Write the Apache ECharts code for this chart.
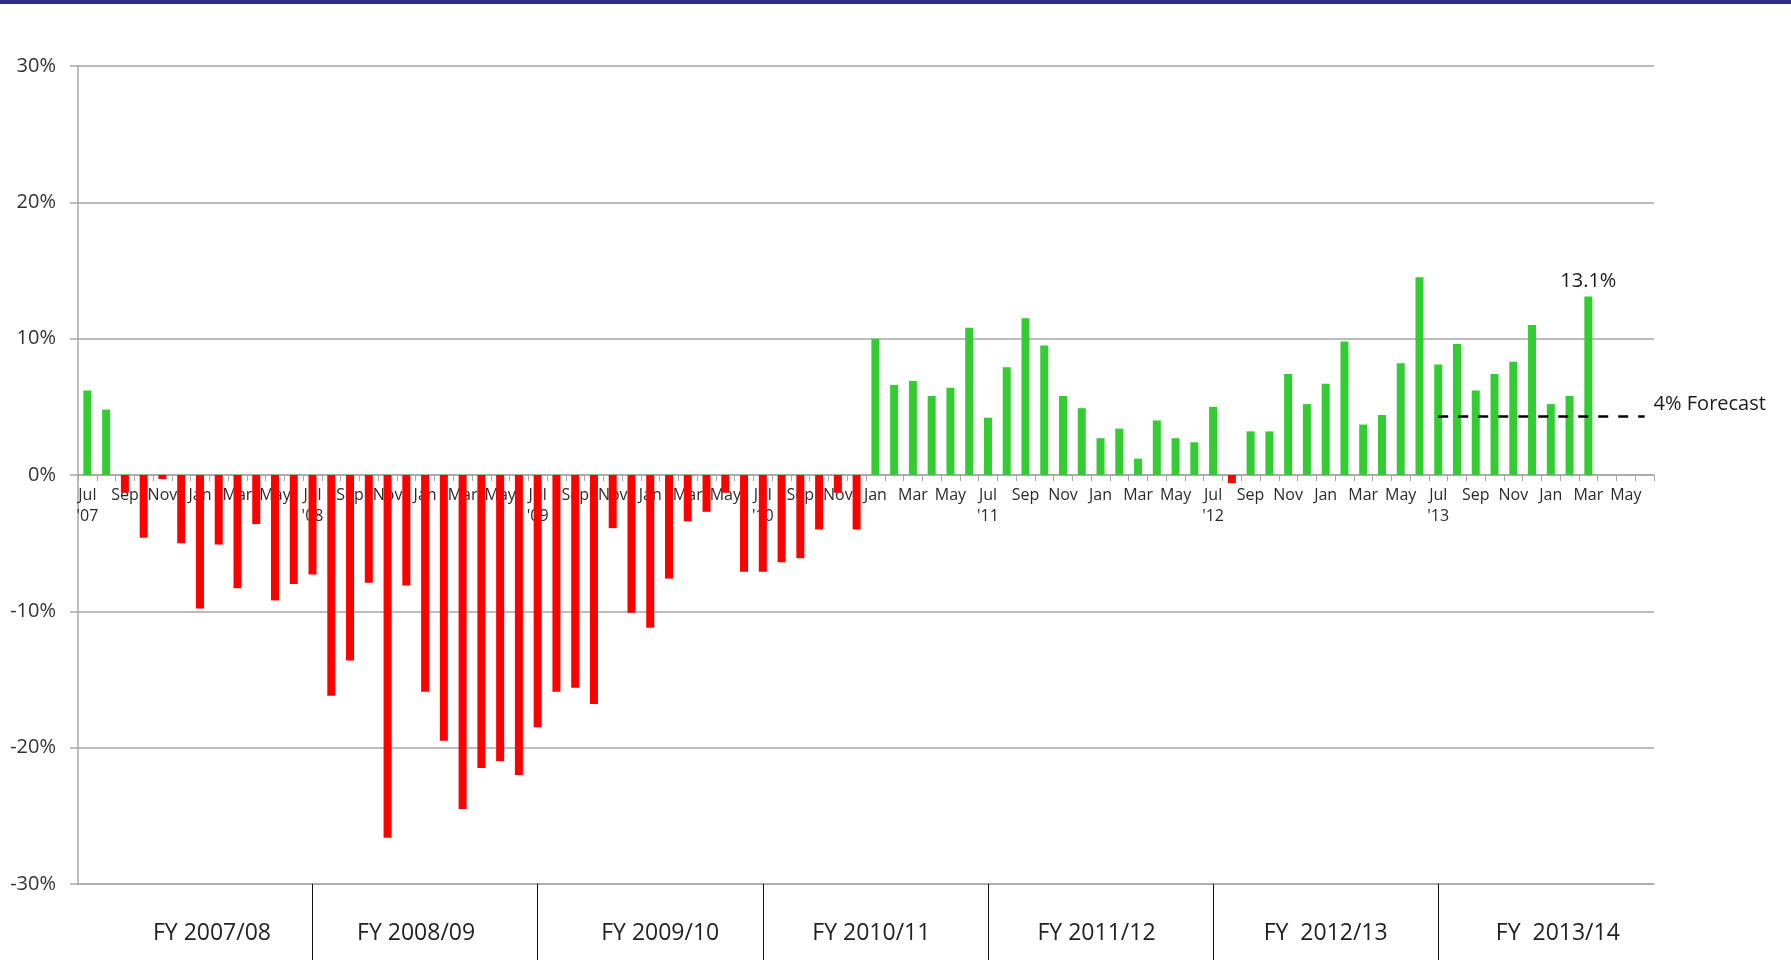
<!DOCTYPE html>
<html>
<head>
<meta charset="utf-8">
<style>
  html, body { margin: 0; padding: 0; background: #ffffff; }
  #chart { width: 1791px; height: 972px; }
</style>
<script src="https://cdn.jsdelivr.net/npm/echarts@6/dist/echarts.min.js"></script>
</head>
<body>
<div id="chart"></div>
<script>
// ---- Data ----
const monthNames = ['Jul','Aug','Sep','Oct','Nov','Dec','Jan','Feb','Mar','Apr','May','Jun'];
const fyLabels = ['FY 2007/08','FY 2008/09','FY 2009/10','FY 2010/11','FY 2011/12','FY  2012/13','FY  2013/14'];
const fyStartYears = ['07','08','09','10','11','12','13'];

// categories: Jul '07 ... Jun '14 (84 months)
const categories = [];
fyStartYears.forEach(function (y) {
  monthNames.forEach(function (m, j) {
    const yy = j < 6 ? y : String(parseInt(y, 10) + 1).padStart(2, '0');
    categories.push(m + " '" + yy);
  });
});

// Monthly % change; Apr-Jun '14 not yet reported
const growth = [
  6.2, 4.8, -1.3, -4.6, -0.3, -5.0, -9.8, -5.1, -8.3, -3.6, -9.2, -8.0,      // FY 2007/08
  -7.3, -16.2, -13.6, -7.9, -26.6, -8.1, -15.9, -19.5, -24.5, -21.5, -21.0, -22.0, // FY 2008/09
  -18.5, -15.9, -15.6, -16.8, -3.9, -10.1, -11.2, -7.6, -3.4, -2.7, -1.3, -7.1,   // FY 2009/10
  -7.1, -6.4, -6.1, -4.0, -1.3, -4.0, 10.0, 6.6, 6.9, 5.8, 6.4, 10.8,        // FY 2010/11
  4.2, 7.9, 11.5, 9.5, 5.8, 4.9, 2.7, 3.4, 1.2, 4.0, 2.7, 2.4,               // FY 2011/12
  5.0, -0.6, 3.2, 3.2, 7.4, 5.2, 6.7, 9.8, 3.7, 4.4, 8.2, 14.5,              // FY 2012/13
  8.1, 9.6, 6.2, 7.4, 8.3, 11.0, 5.2, 5.8, 13.1, null, null, null            // FY 2013/14
];

const forecastMonths = ["Jul '13","Aug '13","Sep '13","Oct '13","Nov '13","Dec '13","Jan '14","Feb '14","Mar '14","Apr '14","May '14","Jun '14"];
const forecastValues = [4.3, 4.3, 4.3, 4.3, 4.3, 4.3, 4.3, 4.3, 4.3, 4.3, 4.3, 4.3];
const forecastLabel = '4% Forecast';

const yTicks = { min: -30, max: 30, interval: 10 };

// ---- Build ----
let lastIdx = -1;
growth.forEach(function (v, i) { if (v !== null) lastIdx = i; });

const font = 'Open Sans';
const gridColor = '#a6a6a6';

const barData = growth.map(function (v, i) {
  if (i === lastIdx) {
    return { value: v, label: { show: true, position: 'top', distance: 5,
      formatter: function (p) { return p.value.toFixed(1) + '%'; },
      fontSize: 20, color: '#1a1a1a', fontFamily: font } };
  }
  return v;
});

// layout of the plot area
const L = 78, R = 137, T = 66, B = 88, H = 972 - T - B;
const zeroFromTop = H * yTicks.max / (yTicks.max - yTicks.min);

// small horizontal nudges of the fiscal-year captions (style only)
const fyNudge = [12, -9, 10, -4, -4, 0, 7];
const fyRich = {};
fyNudge.forEach(function (s, k) {
  fyRich['f' + k] = {
    fontSize: 23, color: '#222222', fontFamily: font,
    padding: [0, Math.max(0, -2 * s), 0, Math.max(0, 2 * s)]
  };
});

const chart = echarts.init(document.getElementById('chart'), null, { renderer: 'canvas' });
chart.setOption({
  animation: false,
  backgroundColor: '#ffffff',
  graphic: [{
    type: 'rect', left: 0, top: 0, z: 100,
    shape: { width: 1791, height: 4 },
    style: { fill: '#2e2a8c' }
  }],
  grid: [
    { left: L, right: R, top: T, bottom: B },
    { left: L, right: R, top: T, height: zeroFromTop }
  ],
  xAxis: [{
    // fiscal-year axis along the bottom of the plot
    type: 'category',
    gridIndex: 0,
    data: categories,
    position: 'bottom',
    boundaryGap: true,
    axisLine: { show: true, onZero: false, lineStyle: { color: gridColor, width: 1.5 } },
    axisTick: {
      show: true, alignWithLabel: true, length: 76,
      interval: function (i) { return i > 0 && i % 12 === 0; },
      lineStyle: { color: '#111111', width: 1 }
    },
    axisLabel: {
      interval: function (i) { return i % 12 === 6; },
      margin: 38,
      fontSize: 23,
      color: '#222222',
      fontFamily: font,
      rich: fyRich,
      formatter: function (v, i) {
        const k = Math.floor(i / 12);
        return '{f' + k + '|' + fyLabels[k] + '}';
      }
    },
    splitLine: { show: false }
  }, {
    // month axis drawn along the 0% line
    type: 'category',
    gridIndex: 1,
    data: categories,
    position: 'bottom',
    boundaryGap: true,
    axisLine: { show: true, onZero: false, lineStyle: { color: gridColor, width: 1.5 } },
    axisTick: { show: true, interval: 0, length: 6, lineStyle: { color: gridColor, width: 1 } },
    axisLabel: {
      interval: 1,
      margin: 10,
      fontSize: 16,
      lineHeight: 21,
      color: '#2a2a2a',
      fontFamily: font,
      hideOverlap: false,
      formatter: function (v) {
        const parts = v.split(' ');
        return parts[0] === 'Jul' ? parts[0] + '\n' + parts[1] : parts[0];
      }
    },
    splitLine: { show: false }
  }],
  yAxis: [{
    type: 'value',
    gridIndex: 0,
    min: yTicks.min, max: yTicks.max, interval: yTicks.interval,
    axisLine: { show: true, lineStyle: { color: gridColor, width: 1.5 } },
    axisTick: { show: true, length: 8, lineStyle: { color: gridColor, width: 1.5 } },
    axisLabel: { formatter: '{value}%', fontSize: 20, color: '#333333', margin: 22, fontFamily: font },
    splitLine: { show: true, lineStyle: { color: gridColor, width: 1.5 } }
  }, {
    type: 'value',
    gridIndex: 1,
    min: 0, max: 1,
    show: false,
    splitLine: { show: false }
  }],
  series: [{
    type: 'bar',
    xAxisIndex: 0,
    yAxisIndex: 0,
    data: barData,
    barWidth: 8,
    itemStyle: {
      color: function (p) { return p.value >= 0 ? '#33cc33' : '#ff0000'; }
    }
  }, {
    type: 'line',
    xAxisIndex: 0,
    yAxisIndex: 0,
    data: forecastMonths.map(function (m, i) { return [m, forecastValues[i]]; }),
    symbol: 'none',
    lineStyle: { color: '#000000', width: 2.5, type: [10, 10] },
    endLabel: {
      show: true, formatter: forecastLabel, distance: 9, offset: [0, -12],
      fontSize: 20, color: '#1a1a1a', fontFamily: font
    },
    z: 5
  }]
});
</script>
</body>
</html>
